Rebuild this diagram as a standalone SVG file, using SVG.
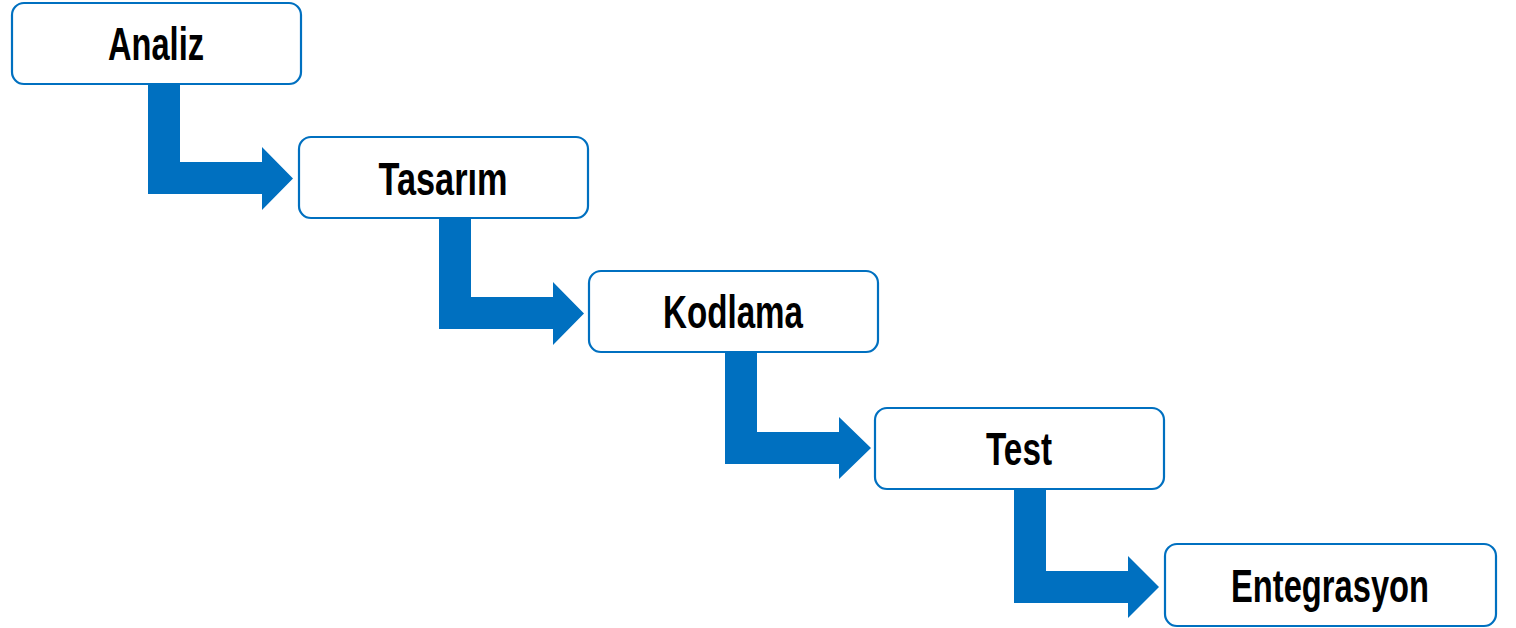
<svg xmlns="http://www.w3.org/2000/svg" width="1516" height="628" viewBox="0 0 1516 628">
<style>
.box{fill:#ffffff;stroke:#0070C0;stroke-width:2.2}
.lbl{font-family:"Liberation Sans Narrow","Liberation Sans",Arial,sans-serif;font-weight:bold;font-size:47px;fill:#000000;text-anchor:middle}
.arr{fill:#0070C0;stroke:none}
</style>
<rect width="1516" height="628" fill="#ffffff"/>
<g id="connectors">
<polygon class="arr" points="148,84 180,84 180,162 262,162 262,147 293,178.5 262,210 262,194 148,194"/>
<polygon class="arr" points="439,218 471,218 471,297 553,297 553,282 584,313.5 553,345 553,329 439,329"/>
<polygon class="arr" points="725,353 757,353 757,432 839,432 839,417 871,448 839,479 839,464 725,464"/>
<polygon class="arr" points="1014,489 1046,489 1046,571 1128,571 1128,556 1159,587 1128,618 1128,603 1014,603"/>
</g>
<g id="analiz">
<rect class="box" x="12" y="3" width="289" height="81" rx="12"/>
<text class="lbl" x="156" y="60" textLength="96" lengthAdjust="spacingAndGlyphs">Analiz</text>
</g>
<g id="tasarim">
<rect class="box" x="299" y="137" width="289" height="81" rx="12"/>
<text class="lbl" x="443" y="195" textLength="129" lengthAdjust="spacingAndGlyphs">Tasarım</text>
</g>
<g id="kodlama">
<rect class="box" x="589" y="271" width="289" height="81" rx="12"/>
<text class="lbl" x="733" y="328" textLength="140" lengthAdjust="spacingAndGlyphs">Kodlama</text>
</g>
<g id="test">
<rect class="box" x="875" y="408" width="289" height="81" rx="12"/>
<text class="lbl" x="1019" y="465" textLength="66" lengthAdjust="spacingAndGlyphs">Test</text>
</g>
<g id="entegrasyon">
<rect class="box" x="1165" y="544" width="331" height="82" rx="12"/>
<text class="lbl" x="1330" y="602" textLength="198" lengthAdjust="spacingAndGlyphs">Entegrasyon</text>
</g>
</svg>
